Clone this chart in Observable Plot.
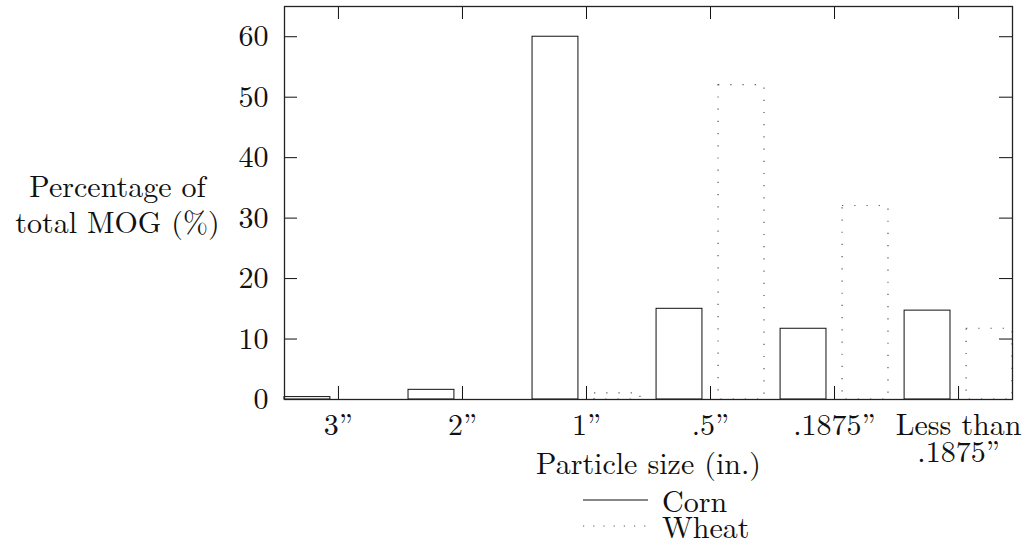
<!DOCTYPE html>
<html>
<head>
<meta charset="utf-8">
<script src="https://cdn.jsdelivr.net/npm/d3@7"></script>
<script src="https://cdn.jsdelivr.net/npm/@observablehq/plot@0.6"></script>
<style>
  html, body { margin: 0; padding: 0; background: #fff; overflow: hidden; }
  #chart svg { display: block; }
  .legend { font-family: 'Latin Modern Roman', 'Liberation Serif', serif; font-size: 30px; color: #111; margin-top: -6px; }
  .legend .row { display: flex; align-items: center; height: 26px; margin-left: 583px; }
  .legend .row span { margin-left: 14px; line-height: 26px; }
  .legend svg { display: block; }
</style>
</head>
<body>
<div id="chart"></div>
<div class="legend">
  <div class="row"><svg width="65" height="6"><line x1="0" x2="65" y1="3" y2="3" stroke="#111" stroke-width="1"/></svg><span>Corn</span></div>
  <div class="row"><svg width="65" height="6"><line x1="0" x2="65" y1="3" y2="3" stroke="#555" stroke-width="1.2" stroke-dasharray="1.2 9"/></svg><span>Wheat</span></div>
</div>
<script>
const categories = ["3”", "2”", "1”", ".5”", ".1875”", "Less than\n.1875”"];
const corn = [0.4, 1.6, 60, 15, 11.7, 14.7];
const wheat = [0, 0, 1, 52, 32, 11.7];
const yTicks = [0, 10, 20, 30, 40, 50, 60];

const idx = categories.map((_, i) => i);
const cornData = idx.map(i => ({i, v: corn[i]}));
const wheatData = idx.map(i => ({i, v: wheat[i]}));

// bar layout within each category slot (fractions of category step)
const inner = 0.065, outer = 0.435;

const W = 1026, H = 493;
const mL = 284, mR = 14, mT = 6, mB = 94;
const fw = W - mL - mR, fh = H - mT - mB;
const tick = 13;

const chart = Plot.plot({
  width: W,
  height: H,
  marginLeft: mL,
  marginRight: mR,
  marginTop: mT,
  marginBottom: mB,
  style: {fontFamily: "'Latin Modern Roman', 'Liberation Serif', serif", fontSize: "30px", color: "#111", background: "#fff"},
  x: {type: "linear", domain: [-outer, categories.length - 1 + outer]},
  y: {domain: [0, 65]},
  marks: [
    Plot.rectY(cornData, {x1: d => d.i - outer, x2: d => d.i - inner, y1: 0, y2: "v", fill: "none", stroke: "#111", strokeWidth: 1}),
    Plot.rectY(wheatData, {x1: d => d.i + inner, x2: d => d.i + outer, y1: 0, y2: "v", fill: "none", stroke: "#555", strokeWidth: 1.2, strokeDasharray: "1.2 11"}),
    // inward ticks
    Plot.tickX(idx, {x: d => d, insetTop: fh - tick, stroke: "#111"}),
    Plot.tickX(idx, {x: d => d, insetBottom: fh - tick, stroke: "#111"}),
    Plot.tickY(yTicks, {y: d => d, insetRight: fw - tick, stroke: "#111"}),
    Plot.tickY(yTicks, {y: d => d, insetLeft: fw - tick, stroke: "#111"}),
    Plot.axisY({ticks: yTicks, tickSize: 0, tickPadding: 16, label: null, fontSize: 30}),
    Plot.axisX({ticks: idx, tickFormat: i => categories[i], tickSize: 0, tickPadding: 17, label: null, lineHeight: 0.88, fontSize: 30}),
    Plot.frame({stroke: "#222", strokeWidth: 1.3}),
    Plot.text(["Percentage of\ntotal MOG (%)"], {frameAnchor: "left", dx: -167, textAnchor: "middle", lineAnchor: "middle", lineHeight: 1.2, fontSize: 30}),
    Plot.text(["Particle size (in.)"], {frameAnchor: "bottom", dy: 53, lineAnchor: "top", textAnchor: "middle", fontSize: 30})
  ]
});
document.getElementById("chart").appendChild(chart);
</script>
</body>
</html>
